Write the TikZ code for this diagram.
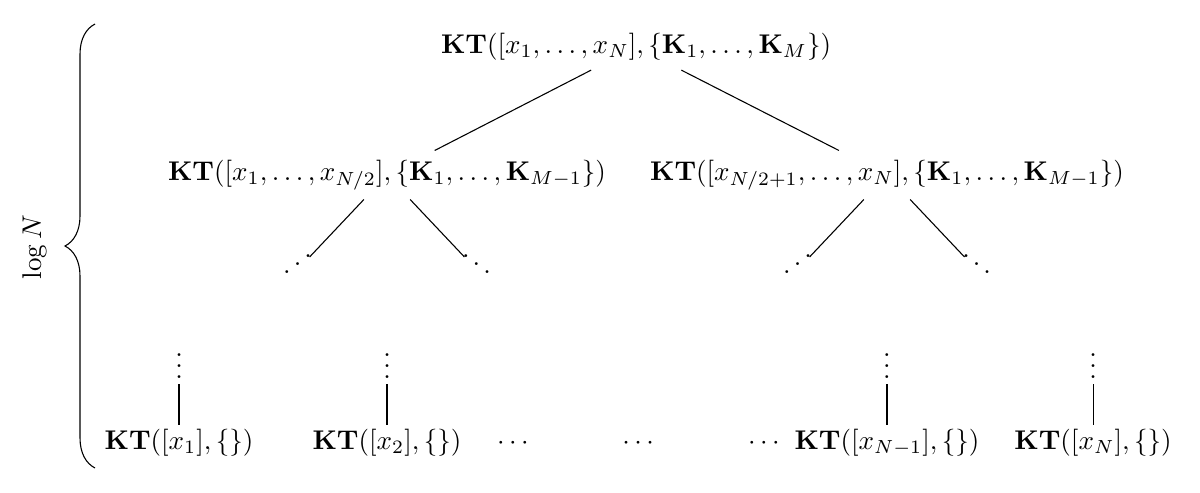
\documentclass[tikz,border=0pt]{standalone}
\usetikzlibrary{positioning,decorations.pathreplacing}
\newcommand{\KT}{\mathbf{KT}}
\newcommand{\dnDots}{\raise7pt\hbox{.}\mkern2mu\raise4pt\hbox{.}\mkern2mu\raise1pt\hbox{.}}
\newcommand{\upDots}{\raise1pt\hbox{.}\mkern2mu\raise4pt\hbox{.}\mkern2mu\raise7pt\hbox{.}}
\tikzset{
tree/.style={text centered},
leaf/.style={text centered, anchor=base, inner ysep=1.5pt},
gap/.style={inner sep=0pt},
more/.style={inner sep=2pt},
line/.style={draw},
reach/.style={draw, shorten >=-1.5pt},
spanbrace/.style={draw, decorate, decoration={brace, amplitude=0.39cm}}
}

\begin{document}
\begin{tikzpicture}
    \useasboundingbox (0,0) rectangle (15.584,6.390);
    % Place nodes
    \node [tree] (root) at (8.260,5.779) {$\KT([x_1,\ldots,x_N],\{\mathbf{K}_1,\ldots,\mathbf{K}_M\})$};
    \node [tree] (left) at (5.026,4.117) {$\KT([x_1,\ldots,x_{N/2}],\{\mathbf{K}_1,\ldots,\mathbf{K}_{M-1}\})$};
    \node [tree] (right) at (11.519,4.117) {$\KT([x_{N/2+1},\ldots,x_N],\{\mathbf{K}_1,\ldots,\mathbf{K}_{M-1}\})$};
    \node [gap] (leftup) at (3.864,2.942) {$\upDots$};
    \node [gap] (leftdn) at (6.188,2.942) {$\dnDots$};
    \node [gap] (rightup) at (10.357,2.942) {$\upDots$};
    \node [gap] (rightdn) at (12.682,2.942) {$\dnDots$};
    \node [leaf] (first) at (2.325,0.55) {$\KT([x_1],\{\})$};
    \node [leaf] (second) at (5.026,0.55) {$\KT([x_2],\{\})$};
    \node [leaf] (skipa) at (6.662,0.55) {$\cdots$};
    \node [leaf] (skipb) at (8.286,0.55) {$\cdots$};
    \node [leaf] (skipc) at (9.922,0.55) {$\cdots$};
    \node [leaf] (penult) at (11.519,0.55) {$\KT([x_{N-1}],\{\})$};
    \node [leaf] (last) at (14.195,0.55) {$\KT([x_N],\{\})$};
    \node [more] (firstv) at (2.325,1.74) {$\vdots$};
    \node [more] (secondv) at (5.026,1.74) {$\vdots$};
    \node [more] (penultv) at (11.519,1.74) {$\vdots$};
    \node [more] (lastv) at (14.195,1.74) {$\vdots$};
    \node [rotate=90] (logn) at (0.445,3.18) {$\log N$};
    \coordinate (bracebot) at (1.234,0.312);
    \coordinate (bracetop) at (1.234,6.078);
    % Draw edges
    \path [line] (root) -- (left);
    \path [line] (root) -- (right);
    \path [reach] (left) -- (leftup.north east);
    \path [reach] (left) -- (leftdn.north west);
    \path [reach] (right) -- (rightup.north east);
    \path [reach] (right) -- (rightdn.north west);
    \path [line] (firstv) -- (first);
    \path [line] (secondv) -- (second);
    \path [line] (penultv) -- (penult);
    \path [line] (lastv) -- (last);
    \path [spanbrace] (bracebot) -- (bracetop);
\end{tikzpicture}
\end{document}
